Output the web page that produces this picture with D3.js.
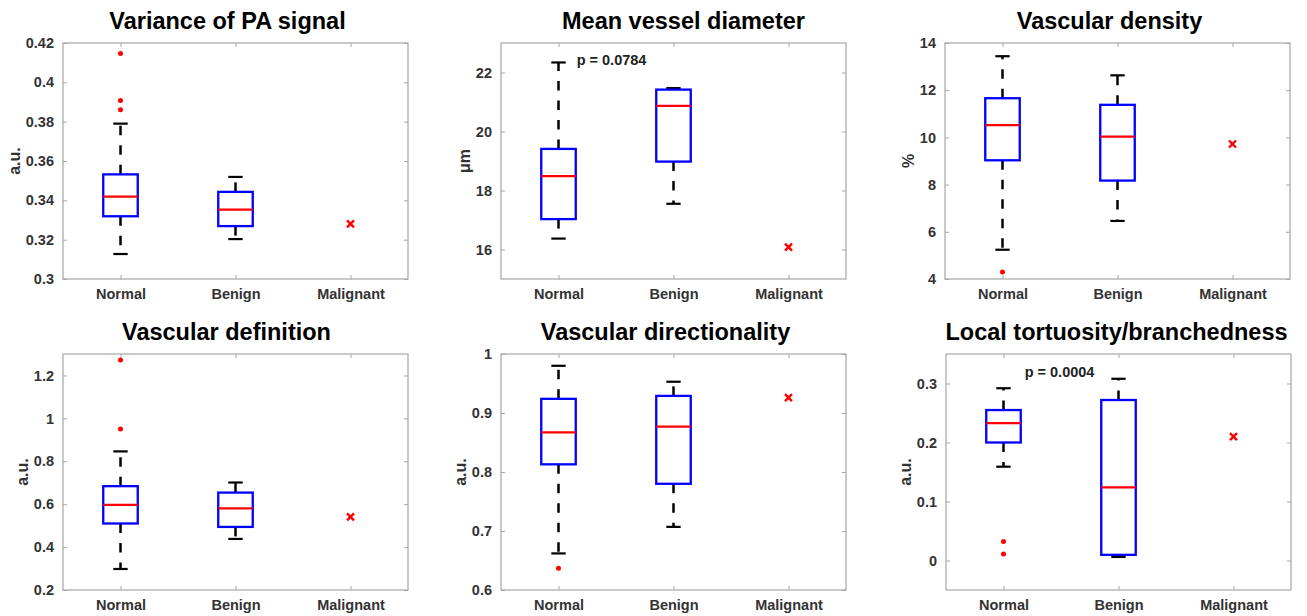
<!DOCTYPE html>
<html>
<head>
<meta charset="utf-8">
<script src="https://cdn.jsdelivr.net/npm/d3@7/dist/d3.min.js"></script>
<style>
  body { margin: 0; background: #fff; }
  svg text { font-family: "Liberation Sans", Arial, sans-serif; font-weight: bold; }
</style>
</head>
<body>
<svg width="1307" height="616"></svg>
<script>
// groups on the x axis
const categories = ["Normal", "Benign", "Malignant"];

// one entry per panel (row by row)
const titles = ["Variance of PA signal", "Mean vessel diameter", "Vascular density",
                "Vascular definition", "Vascular directionality", "Local tortuosity/branchedness"];
const yLabels = ["a.u.", "\u03bcm", "%", "a.u.", "a.u.", "a.u."];
const yDomains = [[0.3, 0.42], [15, 23], [4, 14], [0.2, 1.3], [0.6, 1], [-0.05, 0.35]];
const yTicks = [
  [0.3, 0.32, 0.34, 0.36, 0.38, 0.4, 0.42],
  [16, 18, 20, 22],
  [4, 6, 8, 10, 12, 14],
  [0.2, 0.4, 0.6, 0.8, 1, 1.2],
  [0.6, 0.7, 0.8, 0.9, 1],
  [0, 0.1, 0.2, 0.3]
];

// box stats: [lower whisker, Q1, median, Q3, upper whisker]
const normalStats = [
  [0.3127, 0.3319, 0.3419, 0.3532, 0.379],
  [16.37, 17.03, 18.49, 19.41, 22.34],
  [5.24, 9.03, 10.52, 11.66, 13.44],
  [0.298, 0.510, 0.597, 0.684, 0.846],
  [0.662, 0.813, 0.867, 0.924, 0.980],
  [0.159, 0.200, 0.233, 0.255, 0.292]
];
const benignStats = [
  [0.3203, 0.3269, 0.3353, 0.3443, 0.3519],
  [17.55, 18.98, 20.87, 21.42, 21.47],
  [6.46, 8.17, 10.03, 11.38, 12.63],
  [0.438, 0.494, 0.580, 0.654, 0.701],
  [0.707, 0.780, 0.877, 0.929, 0.953],
  [0.006, 0.0096, 0.124, 0.272, 0.308]
];
const normalOutliers = [[0.4146, 0.3908, 0.386], [], [4.30], [1.272, 0.951], [0.637], [0.032, 0.011]];
const benignOutliers = [[], [], [], [], [], []];
const malignantValues = [0.328, 16.08, 9.72, 0.541, 0.926, 0.21];

// p-value notes: [panel, text, x (category units), y]
const pNotes = [
  [1, "p = 0.0784", 1.158, 22.26],
  [5, "p = 0.0004", 1.184, 0.311]
];

const svg = d3.select("svg");

const panelW = 345, panelH = 236;
const panelPos = [[63, 43], [501, 43], [945, 43], [63, 354], [501, 354], [946, 354]];
const titleShift = [-8, 10, -8, -9, -8, -2];
const gridGray = "#a6a6a6";
const tickText = "#333";

titles.forEach((title, i) => {
  const [px, py] = panelPos[i];
  const g = svg.append("g").attr("transform", `translate(${px},${py})`);

  const x = d3.scaleLinear().domain([0.5, 3.5]).range([0, panelW]);
  const y = d3.scaleLinear().domain(yDomains[i]).range([panelH, 0]);
  const fmt = d => String(+d.toFixed(3));

  // box round the axes
  g.append("rect")
    .attr("width", panelW).attr("height", panelH)
    .attr("fill", "none").attr("stroke", gridGray).attr("stroke-width", 1.2);

  // left axis with labels
  const yAxis = g.append("g")
    .call(d3.axisLeft(y).tickValues(yTicks[i]).tickFormat(fmt).tickSizeInner(-4).tickSizeOuter(0).tickPadding(9));
  // right axis, ticks only
  const yAxisR = g.append("g").attr("transform", `translate(${panelW},0)`)
    .call(d3.axisRight(y).tickValues(yTicks[i]).tickFormat("").tickSizeInner(-4).tickSizeOuter(0));
  // bottom axis with categories
  const xAxis = g.append("g").attr("transform", `translate(0,${panelH})`)
    .call(d3.axisBottom(x).tickValues([1, 2, 3]).tickFormat(d => categories[d - 1]).tickSizeInner(-4).tickSizeOuter(0).tickPadding(10));
  const xAxisT = g.append("g")
    .call(d3.axisTop(x).tickValues([1, 2, 3]).tickFormat("").tickSizeInner(-4).tickSizeOuter(0));

  [yAxis, yAxisR, xAxis, xAxisT].forEach(a => {
    a.select(".domain").remove();
    a.selectAll("line").attr("stroke", gridGray);
    a.selectAll("text").attr("fill", tickText).attr("font-size", 14.5);
  });

  // y label
  const bb = yAxis.node().getBBox();
  g.append("text")
    .attr("transform", `translate(${bb.x - 11},${panelH / 2}) rotate(-90)`)
    .attr("text-anchor", "middle")
    .attr("dominant-baseline", "central")
    .attr("font-size", 16)
    .attr("fill", tickText)
    .text(yLabels[i]);

  // title
  g.append("text")
    .attr("x", panelW / 2 + titleShift[i])
    .attr("y", -14)
    .attr("text-anchor", "middle")
    .attr("font-size", 23.5)
    .attr("fill", "#000")
    .text(title);

  const boxW = 0.3 * (x(2) - x(1));
  const capW = 0.125 * (x(2) - x(1));

  [[1, normalStats[i], normalOutliers[i]], [2, benignStats[i], benignOutliers[i]]].forEach(([c, s, outs]) => {
    const cx = x(c);
    const [lo, q1, med, q3, hi] = s;
    // whiskers
    g.append("line").attr("x1", cx).attr("x2", cx).attr("y1", y(q3)).attr("y2", y(hi))
      .attr("stroke", "#000").attr("stroke-width", 2.5).attr("stroke-dasharray", "9.5,10");
    g.append("line").attr("x1", cx).attr("x2", cx).attr("y1", y(q1)).attr("y2", y(lo))
      .attr("stroke", "#000").attr("stroke-width", 2.5).attr("stroke-dasharray", "9.5,10");
    // caps
    [lo, hi].forEach(v => {
      g.append("line").attr("x1", cx - capW / 2).attr("x2", cx + capW / 2)
        .attr("y1", y(v)).attr("y2", y(v))
        .attr("stroke", "#000").attr("stroke-width", 2.2);
    });
    // box
    g.append("rect")
      .attr("x", cx - boxW / 2).attr("y", y(q3))
      .attr("width", boxW).attr("height", y(q1) - y(q3))
      .attr("fill", "none").attr("stroke", "#0000ff").attr("stroke-width", 2.3);
    // median
    g.append("line").attr("x1", cx - boxW / 2).attr("x2", cx + boxW / 2)
      .attr("y1", y(med)).attr("y2", y(med))
      .attr("stroke", "#ff0000").attr("stroke-width", 2.2);
    // outliers
    g.selectAll(null).data(outs).join("circle")
      .attr("cx", cx).attr("cy", d => y(d)).attr("r", 2.5).attr("fill", "#ff0000");
  });

  // malignant single value
  const mx = x(3), my = y(malignantValues[i]), k = 3.5;
  g.append("path")
    .attr("d", `M${mx - k},${my - k}L${mx + k},${my + k}M${mx - k},${my + k}L${mx + k},${my - k}`)
    .attr("stroke", "#ff0000").attr("stroke-width", 2.4).attr("fill", "none");

  // p-value notes
  pNotes.filter(n => n[0] === i).forEach(n => {
    g.append("text")
      .attr("x", x(n[2])).attr("y", y(n[3]))
      .attr("font-size", 14.5)
      .attr("fill", "#222")
      .text(n[1]);
  });
});
</script>
</body>
</html>
